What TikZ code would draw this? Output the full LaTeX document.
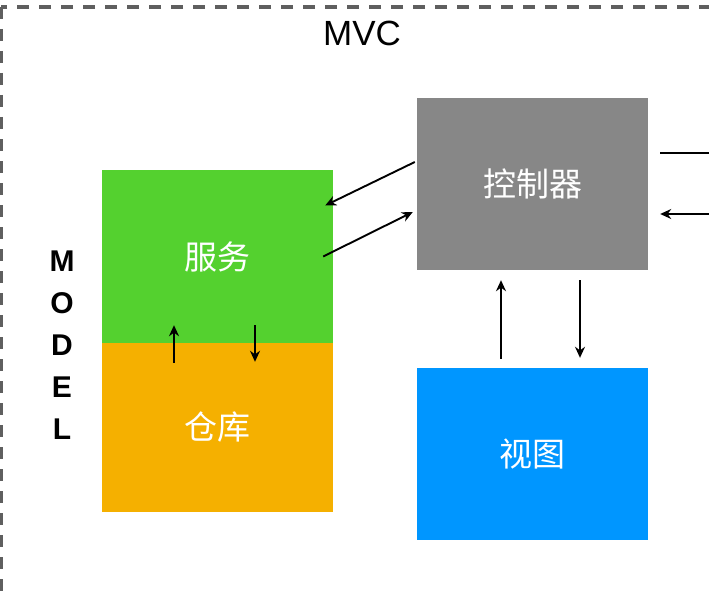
\documentclass[tikz,border=0pt]{standalone}
\usepackage{fontspec}
\setmainfont{Liberation Sans}
\newfontfamily\cjk{Noto Sans CJK SC}
\usetikzlibrary{arrows.meta,positioning}

\definecolor{svcgreen}{RGB}{84,209,47}
\definecolor{repoorange}{RGB}{245,176,0}
\definecolor{ctrlgray}{RGB}{135,135,135}
\definecolor{viewblue}{RGB}{0,150,255}
\definecolor{framegray}{RGB}{95,95,95}

\begin{document}
\begin{tikzpicture}[x=1pt,y=-1pt,
 block/.style={minimum width=231pt,inner sep=0pt,text=white,
               font=\cjk\fontsize{33}{36}\selectfont},
 arrow/.style={-{Stealth[length=11pt,width=10pt]},line width=1.9pt},
 frame/.style={draw=framegray,line width=3.5pt,dash pattern=on 12pt off 10pt}]
\useasboundingbox (0,0) rectangle (709,591);
\clip (0,0) rectangle (709,591);
\draw[frame] (1,7) rectangle (770,660);
\node[font=\fontsize{35}{38}\selectfont] (title) at (362,33) {MVC};
\node[align=center,font=\bfseries\fontsize{30}{42}\selectfont] (model) at (62,345) {M\\O\\D\\E\\L};
\node[block,fill=svcgreen,minimum height=173pt] (service) at (217.5,256.5) {服务};
\node[block,fill=repoorange,minimum height=169pt] (repo) at (217.5,427.5) {仓库};
\node[block,fill=ctrlgray,minimum height=172pt] (controller) at (532.5,184) {控制器};
\node[block,fill=viewblue,minimum height=172pt] (view) at (532.5,454) {视图};
\coordinate (out) at (730,153);
\coordinate (in) at (730,214);
\draw[arrow] ([xshift=-2pt,yshift=22pt]controller.west)--([xshift=-8pt,yshift=51pt]service.east);
\draw[arrow] ([xshift=-10pt]service.east)--([xshift=-4pt,yshift=-28pt]controller.west);
\draw[arrow] ([xshift=-43.5pt,yshift=-20pt]repo.north)--([xshift=-43.5pt,yshift=18pt]service.south);
\draw[arrow] ([xshift=37.5pt,yshift=18pt]service.south)--([xshift=37.5pt,yshift=-19pt]repo.north);
\draw[arrow] ([xshift=-31.5pt,yshift=9pt]view.north)--([xshift=-31.5pt,yshift=-10pt]controller.south);
\draw[arrow] ([xshift=47.5pt,yshift=-10pt]controller.south)--([xshift=47.5pt,yshift=10pt]view.north);
\draw[line width=1.9pt] ([xshift=12pt,yshift=31pt]controller.east)--(out);
\draw[arrow] (in)--([xshift=12pt,yshift=-30pt]controller.east);
\end{tikzpicture}
\end{document}
